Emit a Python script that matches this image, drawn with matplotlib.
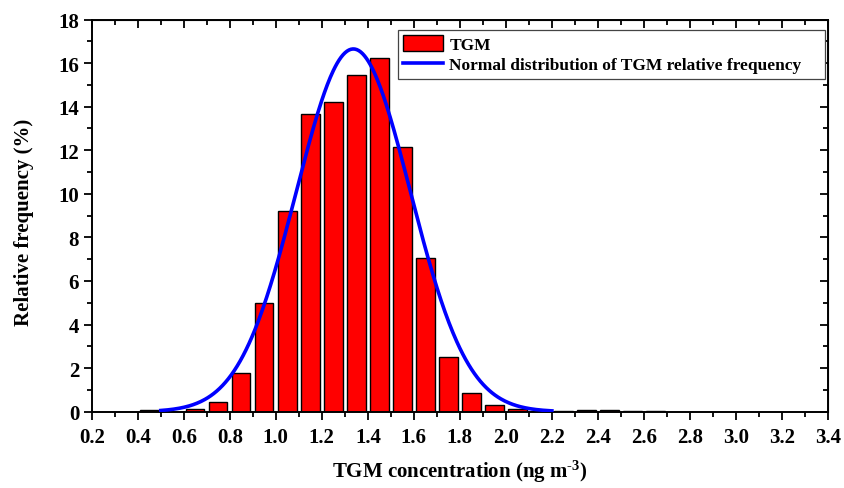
import numpy as np
import matplotlib
matplotlib.use('Agg')
import matplotlib.pyplot as plt
from matplotlib.ticker import MultipleLocator

# Histogram of TGM concentration (bin centres, ng m-3) and relative frequency (%)
bin_centers = [0.45, 0.55, 0.65, 0.75, 0.85, 0.95, 1.05, 1.15, 1.25, 1.35,
               1.45, 1.55, 1.65, 1.75, 1.85, 1.95, 2.05, 2.15, 2.25, 2.35,
               2.45, 2.55, 2.65]
rel_freq = [0.08, 0.0, 0.12, 0.45, 1.77, 4.98, 9.2, 13.65, 14.2, 15.45,
            16.25, 12.15, 7.05, 2.5, 0.85, 0.3, 0.12, 0.05, 0.03, 0.06,
            0.08, 0.03, 0.05]
bar_width = 0.08

# Fitted normal curve parameters
fit_mean = 1.337
fit_sd = 0.248
fit_peak = 16.65
fit_range = (0.5, 2.2)

plt.rcParams['font.family'] = ['Liberation Serif', 'DejaVu Serif']
plt.rcParams['font.weight'] = 'bold'
plt.rcParams['mathtext.fontset'] = 'custom'
plt.rcParams['mathtext.rm'] = 'Liberation Serif:bold'
plt.rcParams['mathtext.it'] = 'Liberation Serif:bold'
plt.rcParams['mathtext.bf'] = 'Liberation Serif:bold'

fig = plt.figure(figsize=(8.44, 4.89), dpi=100)
ax = fig.add_axes([0.1087, 0.156, 0.8723, 0.802])

bars = ax.bar(bin_centers, rel_freq, width=bar_width, color='#ff0000',
              edgecolor='black', linewidth=1.0, label='TGM', zorder=2)

xs = np.linspace(fit_range[0], fit_range[1], 400)
ys = fit_peak * np.exp(-(xs - fit_mean) ** 2 / (2 * fit_sd ** 2))
curve, = ax.plot(xs, ys, color='#0000ff', linewidth=2.6,
                 label='Normal distribution of TGM relative frequency', zorder=3)

ax.set_xlim(0.2, 3.4)
ax.set_ylim(0, 18)
ax.set_xticks(np.arange(0.2, 3.41, 0.2))
ax.set_xticklabels(['%.1f' % v for v in np.arange(0.2, 3.41, 0.2)])
ax.xaxis.set_minor_locator(MultipleLocator(0.1))
ax.yaxis.set_major_locator(MultipleLocator(2))
ax.yaxis.set_minor_locator(MultipleLocator(1))

for s in ax.spines.values():
    s.set_linewidth(1.4)
ax.tick_params(which='both', direction='out', width=1.3, labelsize=15,
               top=False, right=False)
ax.tick_params(axis='x', pad=5)
ax.tick_params(axis='y', pad=3)
ax.tick_params(which='major', length=6)
ax.tick_params(which='minor', length=3.5)

# inward ticks on the top and right frame
ax_top = ax.secondary_xaxis('top')
ax_top.xaxis.set_major_locator(MultipleLocator(0.2))
ax_top.xaxis.set_minor_locator(MultipleLocator(0.1))
ax_top.tick_params(which='both', direction='in', width=1.3, labeltop=False)
ax_top.tick_params(which='major', length=6)
ax_top.tick_params(which='minor', length=3.5)
ax_right = ax.secondary_yaxis('right')
ax_right.yaxis.set_major_locator(MultipleLocator(2))
ax_right.yaxis.set_minor_locator(MultipleLocator(1))
ax_right.tick_params(which='both', direction='in', width=1.3, labelright=False)
ax_right.tick_params(which='major', length=6)
ax_right.tick_params(which='minor', length=3.5)

ax.set_xlabel('TGM concentration (ng m$^{\\text{-}3}$)', fontsize=15,
              fontweight='bold', labelpad=8)
ax.set_ylabel('Relative frequency (%)', fontsize=15, fontweight='bold')
ax.yaxis.set_label_coords(-0.079, 0.486)

# legend box stretched to a fixed width, entries left-aligned
leg = ax.legend([bars, curve], [bars.get_label(), curve.get_label()],
                loc='upper left', bbox_to_anchor=(0.416, 0.974, 0.58, 0.0),
                mode='expand', fontsize=12.5, fancybox=False,
                edgecolor='#444444', framealpha=1, borderpad=0.3,
                handlelength=2.3, handleheight=1.05, handletextpad=0.35,
                labelspacing=0.15, borderaxespad=0)
leg.get_frame().set_linewidth(0.9)

fig.savefig('out.png', dpi=100)
